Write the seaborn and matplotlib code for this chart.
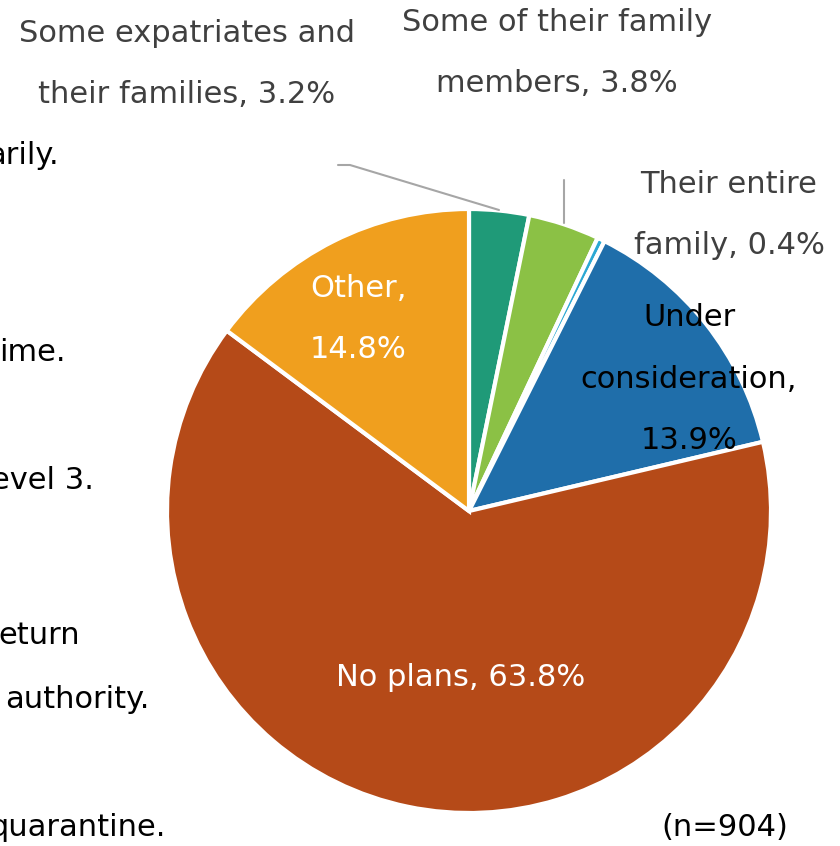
import matplotlib
matplotlib.use("Agg")
import matplotlib.pyplot as plt
import seaborn as sns

# Data
categories = [
    "Some expatriates and\ntheir families",
    "Some of their family\nmembers",
    "Their entire\nfamily",
    "Under\nconsideration,\n",
    "No plans",
    "Other,\n",
]
shares = [3.2, 3.8, 0.4, 13.9, 63.8, 14.8]
slice_colors = ["#1f9a78", "#8bc145", "#2ba8d3", "#1f6eaa", "#b54a18", "#f09f1e"]
left_fragments = ["arily.", "ime.", "evel 3.", "eturn", "authority.", "quarantine."]
sample_note = "(n=904)"

sns.set_theme(style="white")
plt.rcParams["font.family"] = ["DejaVu Sans"]

fig = plt.figure(figsize=(8.4, 8.46), dpi=100)
ax = fig.add_axes([0, 0, 1, 1])

palette = sns.color_palette(slice_colors)
# y axis is flipped below, so start at -90 and run counter-clockwise in data space
wedges, _ = ax.pie(
    shares,
    colors=palette,
    startangle=-90,
    counterclock=True,
    center=(469, 511),
    radius=302,
    wedgeprops={"edgecolor": "white", "linewidth": 3},
    frame=True,
)
ax.set_xlim(0, 840)
ax.set_ylim(846, 0)
ax.axis("off")


def fmt(cat, val):
    if cat.endswith("\n"):
        return f"{cat}{val}%"
    return f"{cat}, {val}%"


label_pos = [(187, 64), (557, 53), (729, 215), (689, 379), (461, 677), (358, 319)]
label_col = ["#404040", "#404040", "#404040", "black", "white", "white"]
for cat, val, (x, y), c in zip(categories, shares, label_pos, label_col):
    ax.text(x, y, fmt(cat, val), ha="center", va="center", color=c,
            fontsize=22, linespacing=2.4)

# leader lines
ax.plot([338, 350, 499], [165, 165, 210], color="#a6a6a6", lw=1.5)
ax.plot([564, 564], [180, 223], color="#a6a6a6", lw=1.5)

# text cut off at the left edge in the original layout
frag_y = [155, 352, 480, 635, 700, 828]
frag_x = [-13, -1, -9, -2, 5, -11]
for t, x, y in zip(left_fragments, frag_x, frag_y):
    ax.text(x, y, t, ha="left", va="center", color="black", fontsize=22)

ax.text(725, 828, sample_note, ha="center", va="center", color="black", fontsize=22)

fig.savefig("out.png", dpi=100)
